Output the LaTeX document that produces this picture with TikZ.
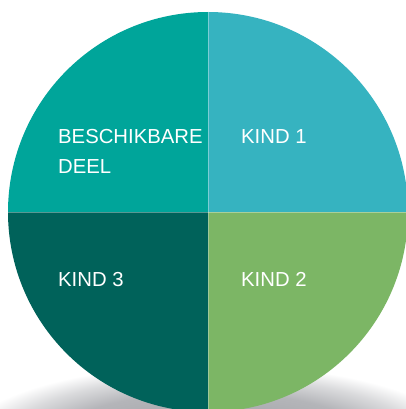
\documentclass[tikz,border=0pt]{standalone}
\usepackage{fontspec}
\setmainfont{Liberation Sans}
\definecolor{qtl}{HTML}{00A59A}
\definecolor{qtr}{HTML}{36B3C0}
\definecolor{qbl}{HTML}{00625A}
\definecolor{qbr}{HTML}{7CB665}
\definecolor{shd}{HTML}{B4B5B9}
\pgfdeclareradialshading{shadowshade}{\pgfpoint{0bp}{0bp}}{color(0bp)=(shd!85!black); color(16bp)=(shd); color(21bp)=(shd!50!white); color(25bp)=(white); color(50bp)=(white)}
\tikzset{
  lbl/.style={text=white, font=\fontsize{20.3}{30}\selectfont, inner sep=0pt, anchor=base west, align=left},
  divider/.style={white, opacity=0.35, line width=0.9pt}
}
\begin{document}
\begin{tikzpicture}[x=1pt,y=-1pt]
\useasboundingbox (0,0) rectangle (406,409);
\clip (0,0) rectangle (406,409);
\fill[white] (0,0) rectangle (406,409);
\begin{scope}[shift={(212,442)}, yscale=0.31]
\shade[shading=shadowshade] (0,0) circle[radius=250];
\end{scope}
\coordinate (c) at (208,212);
\fill[qtl] (c) -- (8,212) arc[start angle=180, end angle=90, x radius=200, y radius=-200] -- cycle;
\fill[qtr] (c) -- (208,12) arc[start angle=90, end angle=0, x radius=200, y radius=-200] -- cycle;
\fill[qbr] (c) -- (408,212) arc[start angle=0, end angle=-90, x radius=200, y radius=-200] -- cycle;
\fill[qbl] (c) -- (208,412) arc[start angle=-90, end angle=-180, x radius=200, y radius=-200] -- cycle;
\coordinate (top) at (208,12);
\coordinate (bot) at (208,412);
\coordinate (lft) at (8,212);
\coordinate (rgt) at (408,212);
\draw[divider] (top) -- (bot);
\draw[divider] (lft) -- (rgt);
\node[lbl] (a) at (58,173) {BESCHIKBARE\\DEEL};
\node[lbl] (b) at (241,143) {KIND 1};
\node[lbl] (d) at (58,286) {KIND 3};
\node[lbl] (e) at (241,286) {KIND 2};
\end{tikzpicture}
\end{document}
